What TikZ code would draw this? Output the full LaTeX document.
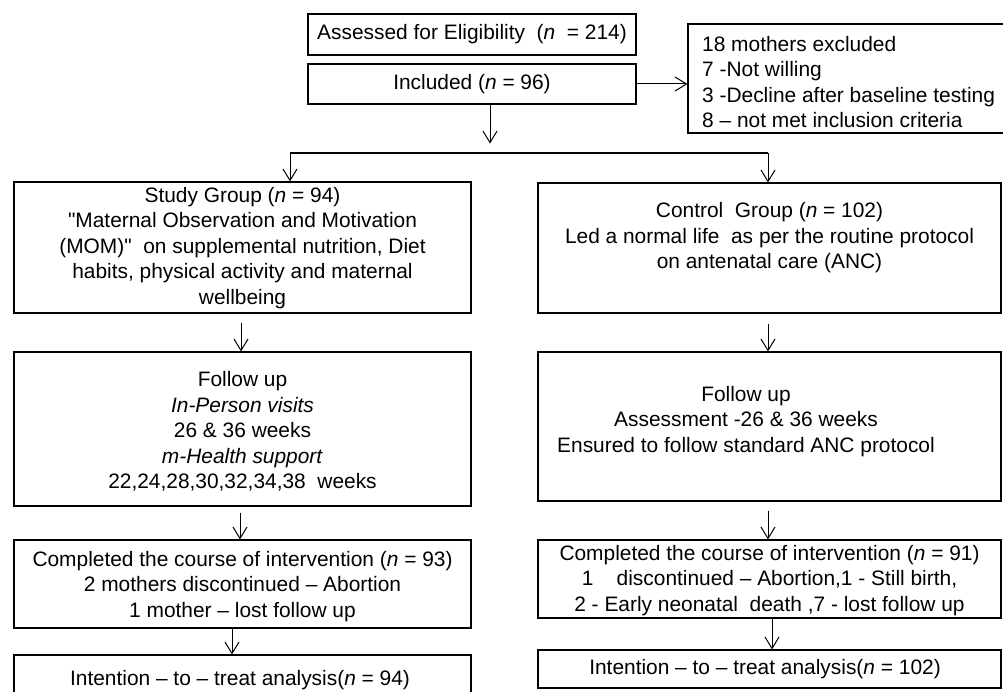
\documentclass[tikz,border=0pt]{standalone}
\usepackage{fontspec}
\setmainfont{Liberation Sans}[Ligatures=TeXOff]
\usetikzlibrary{arrows.meta,calc}
\begin{document}
\begin{tikzpicture}[x=1pt,y=-1pt,
 box/.style={draw,line width=1.1pt,inner sep=0pt},
 txt/.style={align=center,font=\fontsize{20.9}{25.5}\selectfont,inner sep=0pt},
 ltxt/.style={align=left,font=\fontsize{20.9}{25.4}\selectfont,inner sep=0pt,anchor=west},
 arr/.style={line width=1pt,-{Straight Barb[length=11.5pt,width=14pt,line width=1pt]}}]
\useasboundingbox (0,0) rectangle (1003,692);
\fill[white] (0,0) rectangle (1003,692);
% boxes
\node[box,minimum width=328pt,minimum height=41pt] (ass) at (472,34.5) {};
\node[box,minimum width=328pt,minimum height=40pt] (inc) at (472,84) {};
\node[box,minimum width=320pt,minimum height=109pt] (exc) at (848,78.5) {};
\node[box,minimum width=457pt,minimum height=131pt] (sg) at (242.5,247.5) {};
\node[box,minimum width=463pt,minimum height=130pt] (cg) at (769.5,248) {};
\node[box,minimum width=457pt,minimum height=154pt] (fl) at (242.5,429) {};
\node[box,minimum width=463pt,minimum height=149pt] (fr) at (769.5,426.5) {};
\node[box,minimum width=457pt,minimum height=88pt] (cl) at (242.5,584) {};
\node[box,minimum width=463pt,minimum height=78pt] (cr) at (769.5,579) {};
\node[box,minimum width=457pt,minimum height=50pt] (il) at (242.5,680) {};
\node[box,minimum width=463pt,minimum height=38pt] (ir) at (769.5,669) {};
% texts
\node[txt] (tass) at (ass.center) {Assessed for Eligibility\ \ (\textit{n}\ \ = 214)};
\node[txt] (tinc) at (inc.center) {Included (\textit{n} = 96)};
\node[ltxt] (texc) at (702,82) {18 mothers excluded\\7 -Not willing\\3 -Decline after baseline testing\\8 – not met inclusion criteria};
\node[txt] (tsg) at (242.5,248) {Study Group (\textit{n} = 94)\\"Maternal Observation and Motivation\\(MOM)"\ \ on supplemental nutrition, Diet\\habits, physical activity and maternal\\wellbeing};
\node[txt] (tcg) at (769.5,238) {Control\ \ Group (\textit{n} = 102)\\Led a normal life\ \ as per the routine protocol\\on antenatal care (ANC)};
\node[txt] (tfl) at (242.5,431.5) {Follow up\\\textit{In-Person visits}\\26 \& 36 weeks\\\textit{m-Health support}\\22,24,28,30,32,34,38\ \ weeks};
\node[txt] (tfr) at (746,421.5) {Follow up\\Assessment -26 \& 36 weeks\\Ensured to follow standard ANC protocol};
\node[txt] (tcl) at (242.5,586.5) {Completed the course of intervention (\textit{n} = 93)\\2 mothers discontinued – Abortion\\1 mother – lost follow up};
\node[txt] (tcr) at (769.5,580.5) {Completed the course of intervention (\textit{n} = 91)\\1\ \ \ \ discontinued – Abortion,1 - Still birth,\\2 - Early neonatal\ \ death ,7 - lost follow up};
\node[txt] (til) at (240,680) {Intention – to – treat analysis(\textit{n} = 94)};
\node[txt] (tir) at (765,669) {Intention – to – treat analysis(\textit{n} = 102)};
% connectors
\draw[arr] (inc.east) -- (exc.west |- inc.east);
\draw[arr] ([xshift=18pt]inc.south) -- ++(0,39);
\coordinate (jl) at (290,153);
\coordinate (jr) at (768,153);
\draw[line width=1.1pt] (jl) -- (jr);
\draw[arr] (jl) -- (jl |- sg.north);
\draw[arr] (jr) -- (jr |- cg.north);
\draw[arr] ([xshift=-1.5pt,yshift=-9pt]sg.south) -- ([xshift=-1.5pt]fl.north);
\draw[arr] ([xshift=-1.5pt,yshift=-10pt]cg.south) -- ([xshift=-1.5pt]fr.north);
\draw[arr] ([xshift=-2.5pt,yshift=-6pt]fl.south) -- ([xshift=-2.5pt]cl.north);
\draw[arr] ([xshift=-1.5pt,yshift=-9pt]fr.south) -- ([xshift=-1.5pt]cr.north);
\draw[arr] ([xshift=-10.5pt]cl.south) -- ([xshift=-10.5pt]il.north);
\draw[arr] ([xshift=2.5pt]cr.south) -- ([xshift=2.5pt]ir.north);
\end{tikzpicture}
\end{document}
